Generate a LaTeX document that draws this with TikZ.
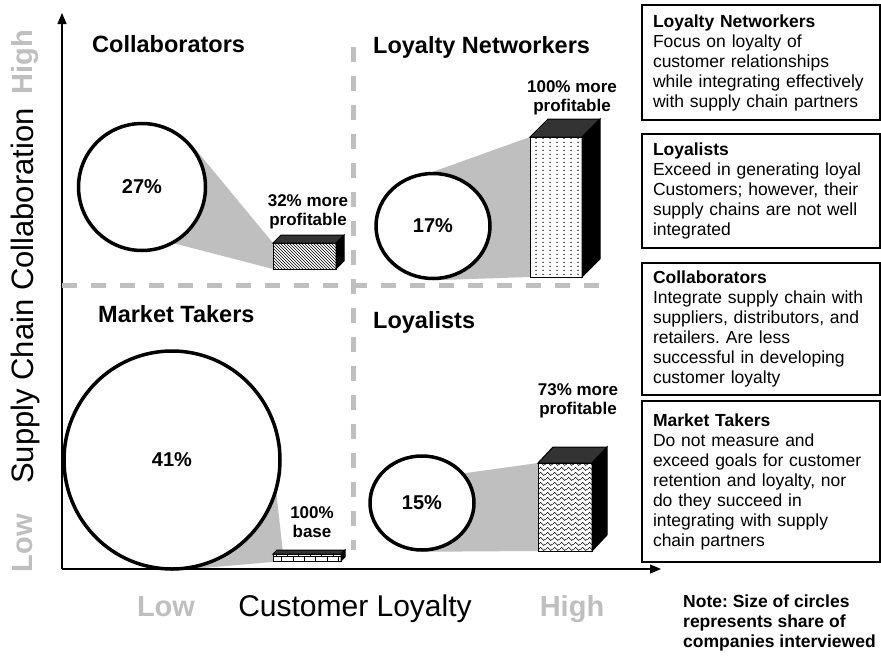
\documentclass[tikz,border=0pt]{standalone}
\usepackage{fontspec}
\setmainfont{Liberation Sans}
\frenchspacing
\usetikzlibrary{arrows.meta, shapes.geometric, patterns, patterns.meta, backgrounds}

\colorlet{conegray}{black!25}
\colorlet{dashgray}{black!25}
\colorlet{axisgray}{black!25}
\definecolor{topgray}{HTML}{333333}

% wavy fill for the 73% bar
\tikzdeclarepattern{
  name=wavefill,
  type=colored,
  bottom left={(0pt,0pt)},
  top right={(7pt,5pt)},
  tile size={(7pt,5pt)},
  code={
    \draw[black, line width=0.6pt] (0pt,2.5pt) .. controls (1.75pt,5pt) and (1.75pt,5pt) .. (3.5pt,2.5pt) .. controls (5.25pt,0pt) and (5.25pt,0pt) .. (7pt,2.5pt);
  }
}
% dotted fill for the 100% bar
\tikzdeclarepattern{
  name=dotfill,
  type=colored,
  bottom left={(0pt,0pt)},
  top right={(6.5pt,4pt)},
  tile size={(6.5pt,4pt)},
  code={\fill[black] (3.25pt,2pt) circle (0.8pt);}
}

\begin{document}
\begin{tikzpicture}[
x = 1pt, y = -1pt, % pixel grid of the reference
> = {Triangle[length=11pt, width=9pt]},
line join = miter
]
\tikzstyle{bubble}=[ellipse, draw = black, line width = 3.5pt, fill = white, inner sep = 0pt, font = \fontsize{20}{24}\bfseries]
\tikzstyle{front}=[rectangle, draw = black, line width = 1pt, preaction = {fill = white}, inner sep = 0pt, outer sep = 0pt]
\tikzstyle{topface}=[fill = topgray, draw = black, line width = 1pt]
\tikzstyle{sideface}=[fill = black, draw = black, line width = 1pt]
\tikzstyle{cone}=[fill = conegray]
\tikzstyle{quadrant}=[anchor = base west, inner sep = 0pt, font = \fontsize{23.5}{28}\bfseries]
\tikzstyle{gain}=[align = center, inner sep = 0pt, font = \fontsize{17}{19.5}\bfseries]
\tikzstyle{descbox}=[draw = black, line width = 1.2pt, anchor = north west, minimum width = 238pt, text width = 216pt, align = left, inner xsep = 11pt, outer sep = 0pt, font = \fontsize{17.5}{20}\selectfont]
\tikzstyle{levelword}=[text = axisgray, anchor = base, inner sep = 0pt, font = \fontsize{29}{34}\bfseries]
\tikzstyle{axislabel}=[anchor = base, inner sep = 0pt, font = \fontsize{30}{36}\selectfont]
\tikzstyle{divider}=[draw = dashgray, line width = 5pt, dash pattern = on 15pt off 14pt]

\useasboundingbox (0,0) rectangle (881,656);

% axes
\coordinate (origin) at (62,569);
\coordinate (ytip) at (62,13);
\coordinate (xtip) at (661,569);
\draw[->, line width = 1.3pt] (origin) -- (ytip);
\draw[->, line width = 1.3pt] (origin) -- (xtip);

% quadrant dividers
\coordinate (vtop) at (353,47);
\coordinate (vbot) at (353,550);
\coordinate (hleft) at (62,285);
\coordinate (hright) at (612,285);
\path[divider] (vtop) -- (vbot);
\path[divider] (hleft) -- (hright);

% share of companies
\node[bubble, minimum width = 127pt, minimum height = 127pt] (c27) at (142,187) {27\%};
\node[bubble, minimum width = 114pt, minimum height = 105pt] (c17) at (433,226) {17\%};
\node[bubble, minimum width = 216pt, minimum height = 218pt] (c41) at (172,460) {41\%};
\node[bubble, minimum width = 104pt, minimum height = 94pt] (c15) at (422,503) {15\%};

% profitability bars
\node[front, pattern = north west lines, minimum width = 63pt, minimum height = 26pt] (b32) at (304.5,256) {};
\filldraw[topface] (b32.north west) -- ++(8,-8) -- ([shift={(8,-8)}]b32.north east) -- (b32.north east) -- cycle;
\filldraw[sideface] (b32.north east) -- ++(8,-8) -- ([shift={(8,-8)}]b32.south east) -- (b32.south east) -- cycle;

\node[front, pattern = dotfill, minimum width = 52pt, minimum height = 140pt] (b100) at (556,207) {};
\filldraw[topface] (b100.north west) -- ++(18,-18) -- ([shift={(18,-18)}]b100.north east) -- (b100.north east) -- cycle;
\filldraw[sideface] (b100.north east) -- ++(18,-18) -- ([shift={(18,-18)}]b100.south east) -- (b100.south east) -- cycle;

\node[front, pattern = bricks, minimum width = 68pt, minimum height = 7pt] (bbase) at (307,557.5) {};
\filldraw[topface] (bbase.north west) -- ++(4,-4) -- ([shift={(4,-4)}]bbase.north east) -- (bbase.north east) -- cycle;
\filldraw[sideface] (bbase.north east) -- ++(4,-4) -- ([shift={(4,-4)}]bbase.south east) -- (bbase.south east) -- cycle;

\node[front, pattern = wavefill, minimum width = 54pt, minimum height = 88pt] (b73) at (565,507) {};
\filldraw[topface] (b73.north west) -- ++(15,-16) -- ([shift={(15,-16)}]b73.north east) -- (b73.north east) -- cycle;
\filldraw[sideface] (b73.north east) -- ++(15,-16) -- ([shift={(15,-16)}]b73.south east) -- (b73.south east) -- cycle;

% gray cones behind circles
\begin{pgfonlayer}{background}
\fill[white] (0,0) rectangle (881,656);
\fill[cone] (c27.40) -- (b32.north west) -- (b32.south west) -- (c27.-60) -- cycle;
\fill[cone] (c17.north) -- (b100.north west) -- (b100.south west) -- (c17.south) -- cycle;
\fill[cone] (c41.-18) -- (283,553) -- (283,561) -- (c41.south) -- cycle;
\fill[cone] (c15.35) -- (b73.north west) -- (b73.south west) -- (c15.south) -- cycle;
\end{pgfonlayer}

% bar labels
\node[gain] (g32) at (308,212) {32\% more\\profitable};
\node[gain] (g100) at (572,98) {100\% more\\profitable};
\node[gain] (gbase) at (312,522) {100\%\\base};
\node[gain] (g73) at (578,401) {73\% more\\profitable};

% quadrant titles
\node[quadrant] (qcol) at (92,52) {Collaborators};
\node[quadrant] (qnet) at (373,53) {Loyalty Networkers};
\node[quadrant] (qmkt) at (98,322) {Market Takers};
\node[quadrant] (qloy) at (373,328) {Loyalists};

% axis labels
\node[levelword] (xlow) at (166,616) {Low};
\node[axislabel] (xlabel) at (355,616) {Customer Loyalty};
\node[levelword] (xhigh) at (572,616) {High};
\node[levelword, rotate = 90] (yhigh) at (32,62) {High};
\node[axislabel, rotate = 90, font = \fontsize{31}{36}\selectfont] (ylabel) at (33,296) {Supply Chain Collaboration};
\node[levelword, rotate = 90] (ylow) at (32,543) {Low};

% segment descriptions
\node[descbox, minimum height = 115pt] (dnet) at (642,5) {\textbf{Loyalty Networkers}\\Focus on loyalty of\\customer relationships\\while integrating effectively\\with supply chain partners};
\node[descbox, minimum height = 114pt] (dloy) at (642,134) {\textbf{Loyalists}\\Exceed in generating loyal\\Customers; however, their\\supply chains are not well\\integrated};
\node[descbox, minimum height = 132pt] (dcol) at (642,263) {\textbf{Collaborators}\\Integrate supply chain with\\suppliers, distributors, and\\retailers. Are less\\successful in developing\\customer loyalty};
\node[descbox, minimum height = 161pt] (dmkt) at (642,401) {\textbf{Market Takers}\\Do not measure and\\exceed goals for customer\\retention and loyalty, nor\\do they succeed in\\integrating with supply\\chain partners};

\node[anchor = north west, align = left, inner sep = 0pt, font = \fontsize{17.5}{20}\bfseries] (note) at (683,595) {Note: Size of circles\\represents share of\\companies interviewed};
\end{tikzpicture}
\end{document}
